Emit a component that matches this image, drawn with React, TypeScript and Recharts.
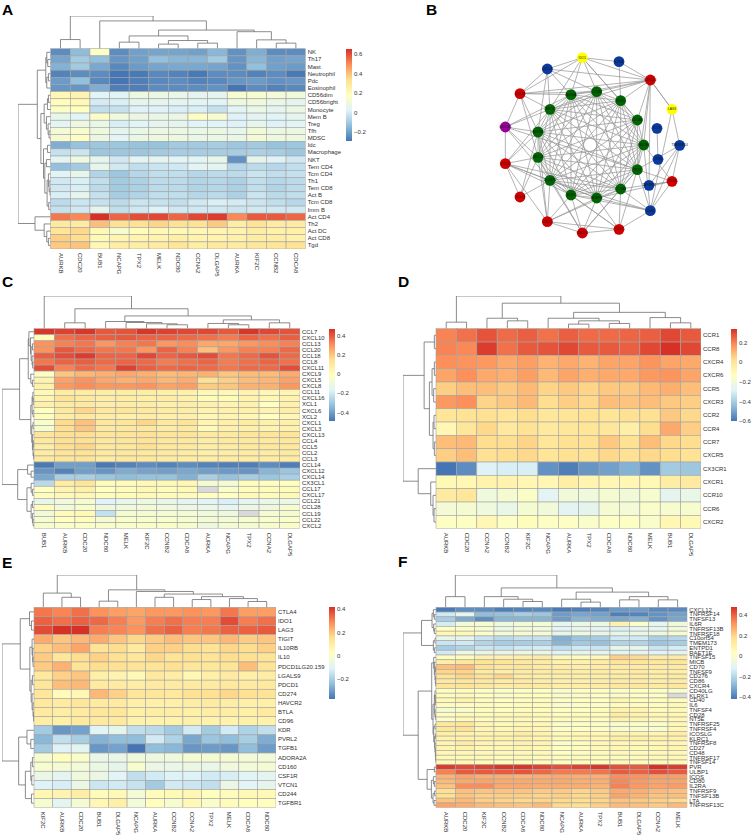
import React from "react";
import { ScatterChart, Scatter, XAxis, YAxis, BarChart, Bar } from "recharts";

type Tree = 0 | [number, Tree, Tree];
const FONT = "'Liberation Sans', Arial, sans-serif";
const palette = ["#4575B4", "#91BFDB", "#E0F3F8", "#FFFFBF", "#FEE090", "#FC8D59", "#D73027"];
const NA = null;

// ---------- Panel A ----------
const aCols = ["AURKB","CDC20","BUB1","NCAPG","TPX2","MELK","NDC80","CCNA2","DLGAP5","AURKA","KIF2C","CCNB2","CDCA8"];
const aRows = ["NK","Th17","Mast","Neutrophil","Pdc","Eosinophil","CD56dim","CD56bright","Monocyte","Mem B","Treg","Tfh","MDSC","Idc","Macrophage","NKT","Tem CD4","Tcm CD4","Th1","Tem CD8","Act B","Tcm CD8","Imm B","Act CD4","Th2","Act DC","Act CD8","Tgd"];
const aValues = [
[-24,-14,17,-24,-20,-19,-19,-20,-15,-23,-17,-24,-24],
[-19,-10,-13,-22,-20,-13,-15,-15,-10,-22,-15,-20,-19],
[-16,-10,-18,-25,-21,-19,-18,-18,-19,-23,-13,-20,-21],
[-26,-24,-24,-29,-28,-25,-26,-28,-24,-24,-26,-24,-28],
[-21,-13,-25,-29,-27,-25,-24,-26,-25,-22,-21,-23,-22],
[-22,-22,-17,-27,-27,-24,-24,-24,-23,-29,-24,-26,-25],
[22,24,3,3,9,8,7,5,5,14,14,12,11],
[19,21,0,1,5,5,4,3,3,9,10,7,5],
[16,18,-4,-3,2,2,1,1,-3,4,7,5,8],
[6,3,16,10,8,7,8,17,14,2,4,3,5],
[4,9,7,1,3,5,5,3,3,2,6,2,3],
[12,14,9,5,7,8,8,7,8,6,11,8,8],
[13,17,8,3,7,9,9,7,7,7,12,9,9],
[-17,-12,-11,-11,-12,-12,-10,-10,-9,-11,-10,-12,-11],
[-3,-2,-11,-11,-11,-10,-9,-9,-9,-9,-8,-9,-11],
[4,9,5,-1,3,4,3,3,6,-23,5,2,-1],
[-13,-10,6,-1,-4,-2,-1,4,4,-6,-5,-6,-4],
[3,6,-7,-11,-6,-4,-4,-6,-5,-5,-2,-4,-3],
[-1,1,-4,-10,-8,-5,-5,-7,-6,-8,-4,-6,-5],
[-1,1,-5,-10,-8,-5,-5,-7,-6,-8,-4,-7,-5],
[1,5,-3,-9,-7,-4,-4,-6,-5,-8,-2,-5,-4],
[-5,-2,-3,-5,-2,-3,-4,-1,1,0,-2,-4,-6],
[-3,-1,5,-4,-1,2,-1,-1,-1,-2,-1,-1,-1],
[53,50,65,56,60,61,56,61,63,50,58,58,56],
[29,28,40,33,33,36,33,32,38,27,32,28,28],
[31,35,21,14,19,21,21,22,23,24,27,25,25],
[37,34,21,23,24,24,26,24,24,25,27,27,25],
[38,39,22,27,27,28,31,27,29,28,30,31,32],
];
const aColTree: Tree = [1,[.28,0,0],[.85,0,[.57,[.39,[.2,0,0],[.25,[.14,0,0],[.17,0,0]]],[.52,0,[.27,0,[.17,0,0]]]]]];
const aRowTree: Tree = [1,[.41,[.15,[.12,0,[.09,0,0]],[.12,[.07,0,0],0]],[.3,[.2,[.1,[.07,0,0],0],[.13,0,[.08,0,[.05,0,0]]]],[.22,[.1,0,0],[.18,[.13,0,0],[.11,[.07,0,[.05,0,[.02,0,0]]],[.06,0,0]]]]]],[.48,0,[.2,0,[.12,0,[.07,0,0]]]]];

// ---------- Panel C ----------
const cCols = ["BUB1","AURKB","CDC20","NDC80","MELK","KIF2C","CCNB2","CDCA8","AURKA","NCAPG","TPX2","CCNA2","DLGAP5"];
const cRows = ["CCL7","CXCL10","CCL13","CCL20","CCL18","CCL8","CXCL11","CXCL9","CXCL5","CXCL8","CCL11","CXCL16","XCL1","CXCL6","XCL2","CXCL1","CXCL3","CXCL13","CCL4","CCL5","CCL2","CCL3","CCL14","CXCL12","CXCL14","CX3CL1","CCL17","CXCL17","CCL21","CCL28","CCL19","CCL22","CXCL2"];
const cValues = [
[46,44,46,40,41,46,44,43,43,40,46,43,41],
[0,36,38,39,40,38,38,37,36,34,38,36,39],
[30,33,35,29,33,35,29,31,26,26,29,31,33],
[30,40,37,35,35,29,38,33,21,29,33,33,37],
[39,42,45,38,38,43,38,40,42,35,37,41,37],
[35,38,39,37,38,37,34,36,38,34,36,38,36],
[42,33,37,35,44,39,37,38,37,35,37,37,42],
[-2,20,23,24,26,24,22,23,24,20,22,22,25],
[5,27,30,26,24,26,23,25,14,18,22,23,27],
[6,29,31,29,29,30,27,28,19,20,24,24,29],
[2,9,9,8,8,8,7,6,3,3,5,3,4],
[4,13,10,8,8,7,8,6,1,1,5,3,5],
[7,10,10,8,9,9,7,8,6,5,6,-1,6],
[-1,11,17,11,12,10,9,8,5,6,7,5,8],
[0,8,10,8,7,8,7,6,3,4,3,-1,3],
[-4,16,21,11,12,17,10,13,4,7,9,6,7],
[-5,15,20,10,11,11,9,10,2,6,7,5,6],
[12,15,15,12,13,14,12,13,10,10,12,12,12],
[10,14,14,11,12,13,11,11,8,10,10,10,11],
[8,15,17,11,11,14,11,10,8,9,10,11,11],
[9,13,13,10,11,10,10,9,7,8,9,9,10],
[10,12,13,9,11,11,9,9,8,9,9,9,9],
[-48,-40,-40,-48,-46,-44,-46,-44,-46,-47,-47,-44,-47],
[-42,-46,-40,-42,-37,-39,-40,-38,-40,-41,-42,-35,-31],
[-38,-28,-28,-31,-33,-32,-32,-36,-28,-32,-29,-31,-28],
[-25,9,12,1,1,2,2,3,-6,-7,0,-2,-1],
[-1,5,7,-1,1,3,1,2,NA,-4,0,1,1],
[0,2,3,1,1,2,1,1,-1,-1,2,1,2],
[-13,-9,-6,-17,-13,-10,-13,-15,-16,-18,-15,-12,-12],
[1,-8,-5,-10,-9,-8,-9,-11,-12,-14,-11,-10,-5],
[-8,1,2,-23,-6,-6,-7,-7,-9,-10,NA,-6,-6],
[-5,-1,0,-6,-4,-4,-4,-5,-7,-7,-5,-4,-3],
[-5,-4,-3,-4,-4,-4,-4,-5,-10,-7,-6,-5,-4],
];
const cColTree: Tree = [1,0,[.61,[.18,0,0],[.39,[.22,0,[.19,0,[.15,0,[.12,0,0]]]],[.27,[.16,0,[.12,0,0]],[.18,0,0]]]]];
const cRowTree: Tree = [1,[.45,[.18,[.16,0,[.11,0,[.09,[.05,0,0],[.06,0,[.04,0,0]]]]],[.1,0,[.05,0,0]]],[.1,[.06,[.035,0,[.025,0,0]],[.03,0,0]],[.07,[.03,0,0],[.05,0,[.03,[.02,0,0],[.015,0,0]]]]]],[.51,[.2,0,[.09,0,0]],[.22,[.09,0,[.05,0,0]],[.09,[.05,0,0],[.05,0,[.03,0,0]]]]]];

// ---------- Panel D ----------
const dCols = ["AURKB","CDC20","CCNA2","CCNB2","KIF2C","NCAPG","AURKA","TPX2","CDCA8","NDC80","MELK","BUB1","DLGAP5"];
const dRows = ["CCR1","CCR8","CXCR4","CXCR6","CCR5","CXCR3","CCR2","CCR4","CCR7","CXCR5","CX3CR1","CXCR1","CCR10","CCR6","CXCR2"];
const dValues = [
[20,23,28,24,26,23,26,24,24,25,26,30,27],
[20,19,32,23,27,28,30,27,27,26,30,34,30],
[18,17,16,13,15,11,13,11,14,14,17,14,13],
[14,18,13,12,15,10,14,12,13,13,16,17,14],
[6,9,9,7,10,5,7,5,7,7,10,12,9],
[16,18,5,7,10,3,6,4,9,8,9,7,6],
[0,1,2,0,3,-1,0,1,0,2,2,7,4],
[-9,-1,4,-2,1,-2,-1,0,-1,-5,3,13,6],
[9,10,3,3,5,-1,2,2,7,2,9,4,3],
[6,9,2,3,4,0,2,1,4,2,4,3,1],
[-60,-55,-29,-30,-30,-54,-58,-53,-51,-47,-54,-41,-42],
[-10,-9,-7,-7,-9,-9,-5,-8,-9,-9,-10,-4,-3],
[-3,-1,-21,-18,-15,-27,-20,-21,-18,-20,-17,-26,-24],
[-19,-18,-21,-24,-18,-20,-27,-26,-18,-19,-16,-17,-17],
[-14,-14,-9,-14,-12,-14,-14,-16,-14,-14,-16,-9,-10],
];
const dColTree: Tree = [1,[.2,0,0],[.78,[.32,0,[.24,0,0]],[.5,[.32,0,[.24,[.14,0,0],[.16,0,0]]],[.34,0,[.18,0,0]]]]];
const dRowTree: Tree = [1,[.36,[.05,0,0],[.2,[.12,[.05,0,0],[.07,0,0]],[.09,[.06,0,0],[.05,0,0]]]],[.54,0,[.16,0,[.09,0,[.06,0,0]]]]];

// ---------- Panel E ----------
const eCols = ["KIF2C","AURKB","CDC20","BUB1","DLGAP5","NCAPG","AURKA","CCNB2","CCNA2","TPX2","MELK","CDCA8","NDC80"];
const eRows = ["CTLA4","IDO1","LAG3","TIGIT","IL10RB","IL10","PDCD1LG20.159","LGALS9","PDCD1","CD274","HAVCR2","BTLA","CD96","KDR","PVRL2","TGFB1","ADORA2A","CD160","CSF1R","VTCN1","CD244","TGFBR1"];
const eValues = [
[32,30,33,28,26,25,27,27,28,27,32,26,26],
[35,33,35,34,31,27,31,33,31,31,38,31,33],
[38,42,42,31,30,28,33,35,31,32,35,35,36],
[24,20,22,24,20,17,19,21,20,20,22,19,20],
[18,21,25,14,16,11,18,18,16,14,17,16,18],
[19,13,16,18,15,13,17,14,15,14,16,15,14],
[19,23,14,16,15,14,14,15,13,13,14,21,14],
[12,18,20,9,7,5,12,10,6,9,11,9,10],
[13,21,22,11,11,10,11,11,11,11,12,11,12],
[13,4,6,22,18,13,13,12,15,15,17,15,14],
[12,11,13,11,11,9,9,9,10,11,10,9,9],
[11,10,11,13,13,9,10,10,9,10,10,9,11],
[10,9,12,12,12,8,8,8,9,8,8,9,8],
[-21,-31,-29,-10,-8,-16,-17,-21,-13,-21,-13,-19,-16],
[-25,-16,-20,-26,-24,-24,-13,-19,-28,-22,-24,-20,-27],
[-21,-11,-9,-31,-29,-37,-24,-25,-31,-30,-31,-24,-30],
[-1,3,0,-7,-7,-4,-5,-4,-2,-2,-2,-3,-3],
[-1,-2,-3,-6,-8,-1,-6,-7,-6,-7,-4,-3,-2],
[-6,-9,-4,-6,-10,-16,-13,-11,-11,-13,-12,-10,-9],
[-11,-12,-6,-14,-13,-15,-21,-13,-14,-16,-6,-10,-8],
[6,7,10,4,5,-3,4,5,6,3,4,5,5],
[-1,-9,-2,6,9,-3,3,-1,5,0,4,3,3],
];
const eColTree: Tree = [1,[.44,0,[.31,0,0]],[.54,[.19,0,0],[.49,0,[.41,[.31,0,0],[.33,[.24,0,0],[.27,0,[.18,0,0]]]]]]];
const eRowTree: Tree = [1,[.43,[.14,0,[.08,0,0]],[.13,[.06,0,[.04,0,[.03,0,0]]],[.09,[.05,0,0],[.06,0,[.03,0,[.015,0,0]]]]]],[.48,[.22,0,[.1,0,0]],[.27,[.1,[.05,0,0],[.07,0,0]],[.08,0,0]]]];

// ---------- Panel F ----------
const fCols = ["AURKB","CDC20","KIF2C","CCNB2","CDCA8","NDC80","NCAPG","AURKA","TPX2","BUB1","DLGAP5","CCNA2","MELK"];
const fRows = ["CXCL12","TNFRSF14","TNFSF13","IL6R","TNFRSF13B","TNFRSF18","C10orf54","TMEM173","ENTPD1","RAET1E","TNFSF15","MICB","CD70","TNFSF9","CD276","CD86","CXCR4","CD40LG","KLRK1","CD40","IL6","TNFSF4","CD28","NT5E","TNFRSF25","TNFRSF4","ICOSLG","KLRC1","TNFRSF8","CD27","CD48","TNFRSF17","TNFSF14","PVR","ULBP1","ICOS","CD80","IL2RA","TNFRSF9","TNFSF13B","LTA","TNFRSF13C"];
const fValues = [
[-41,-37,-37,-40,-39,-38,-41,-40,-39,-35,-34,-38,-38],
[-15,-9,-27,-26,-23,-25,-34,-32,-33,-40,-39,-36,-33],
[-23,-31,-37,-29,-29,-29,-34,-29,-31,-32,-30,-36,-32],
[-14,-3,-1,-5,-3,-2,-9,-6,-6,10,1,-9,-4],
[3,2,-2,-7,-4,-5,-11,-9,-11,-13,-11,-9,-5],
[7,6,2,-3,-1,-2,-8,-5,-7,-8,-7,-6,-1],
[-8,-9,-16,-19,-17,-17,-30,-25,-23,-15,-15,-22,-20],
[-16,-15,-21,-23,-23,-22,-29,-24,-26,-21,-21,-25,-23],
[-23,-21,-16,-17,-15,-14,-18,-15,-16,-9,-9,-16,-14],
[-15,-6,-8,-8,-7,-7,-12,-10,-11,-10,-10,-12,-11],
[4,5,10,10,11,12,6,5,7,21,19,13,13],
[11,14,16,15,14,13,10,10,12,15,15,14,15],
[24,25,17,14,15,13,12,11,12,13,13,13,13],
[20,20,13,11,12,12,12,11,12,11,13,11,11],
[16,20,16,20,12,11,11,11,11,12,12,11,12],
[14,15,14,12,13,12,11,11,12,13,13,12,13],
[15,16,14,12,13,13,11,11,12,14,14,13,14],
[4,5,3,2,3,3,0,2,2,2,3,2,1],
[5,6,3,1,3,3,0,1,2,1,2,2,NA],
[6,9,5,3,4,5,2,3,3,8,5,4,5],
[5,5,5,4,5,5,0,2,2,5,5,4,6],
[-3,0,4,3,4,4,3,3,4,9,8,5,6],
[5,6,5,6,7,6,4,5,5,12,9,7,7],
[0,6,5,6,6,5,5,5,4,9,8,6,7],
[14,15,8,6,7,7,1,2,2,0,1,1,7],
[15,17,8,7,8,7,2,3,2,0,0,0,7],
[11,10,9,9,12,9,6,7,7,9,9,8,11],
[9,10,9,10,10,8,6,7,7,11,11,10,10],
[8,12,8,7,9,8,2,4,7,7,7,7,7],
[8,9,7,7,8,7,3,4,6,7,6,7,8],
[7,7,6,6,6,6,3,4,5,6,5,6,7],
[6,6,6,5,6,5,4,5,5,5,5,6,6],
[6,7,5,5,5,5,4,5,5,6,5,6,6],
[46,44,45,47,47,45,43,45,47,43,41,48,46],
[35,41,41,41,42,39,36,36,37,41,40,43,41],
[26,29,27,27,26,27,28,27,27,33,32,30,30],
[25,28,29,28,28,28,28,27,27,34,31,29,29],
[23,33,33,28,28,27,27,27,26,35,31,29,30],
[18,24,23,23,23,22,22,20,22,28,27,25,24],
[17,23,21,21,21,20,21,19,21,29,26,23,24],
[23,25,21,20,19,20,19,18,20,23,22,21,19],
[29,27,25,24,23,25,19,18,21,25,24,22,25],
];
const fColTree: Tree = [1,[.33,0,0],[.6,[.33,0,[.25,0,[.18,0,0]]],[.47,[.25,0,[.16,0,0]],[.33,[.23,0,0],[.23,0,0]]]]];
const fRowTree: Tree = [1,[.44,[.12,[.08,0,[.05,0,0]],[.07,0,[.05,0,0]]],[.08,[.03,0,0],[.05,0,0]]],[.54,[.13,[.07,0,[.05,0,[.03,[.02,0,0],[.02,0,[.01,0,0]]]]],[.09,[.05,[.03,0,[.02,0,[.01,0,0]]],[.03,0,[.02,0,0]]],[.07,[.03,0,0],[.04,[.02,0,0],[.03,0,[.02,0,[.01,0,[.005,0,0]]]]]]]],[.27,[.05,0,0],[.14,[.08,0,[.05,0,0]],[.09,[.04,0,0],[.06,0,0]]]]]];

// ---------- Panel B (network) ----------
const netNames = ["CCNB2","KIF2C","CDCA8","NDC80","TPX2","CCNA2","NCAPG","BUB1","DLGAP5","CDC20","AURKB","MELK","AURKA","IDO1","IL2RA","CXCL10","LAG3","TNFRSF14","CCL5","CD80","CCL7","CXCL11","CXCL1","CCL19","CCL20","CX3CR1","CCL18","CXCL9","ICOS","CD86","TNFSF13"];
const netX = [380,452,502,521,502,452,380,303,240,204,204,240,303,337,447,541,606,629,606,541,447,337,232,150,106,106,150,232,561,564,537];
const netY = [275,302,360,435,509,567,594,585,541,472,396,328,284,173,185,240,328,436,544,632,688,699,665,591,491,381,281,207,385,478,556];
const netGroupA = [0,1,2,3,4,5,6,7,8,9,10,11,12]; // green
const netGroupB = [14,17,19,27,28,29,30];          // blue
const netGroupC = [15,18,20,21,22,23,24,26];       // red
const netGroupD = [13,16];                         // yellow
const netGroupE = [25];                            // purple
const netOuterEdges: [number, number[]][] = [
  [13,[12,0,1,11,2,27,26,15]],
  [14,[15,1,13]],
  [15,[0,1,2,3,4,12,11,16,27,26,30]],
  [16,[17,19,15]],
  [17,[18,19,30,4]],
  [18,[3,4,5,6,19,30]],
  [19,[3,4,5,6,7,8,20]],
  [20,[5,6,7,8,4,21,22]],
  [21,[6,7,8,9,5,4,22]],
  [22,[8,9,7,6,5,10,24]],
  [23,[8,9,10,24]],
  [24,[9,10,11,8,7,6,5,25]],
  [25,[10,11,9,8,12,4,26]],
  [26,[11,12,10,0,9,27]],
  [27,[12,11,0,10]],
  [28,[29]],
];

// ---------- helpers ----------
function ramp(v: number, min: number, max: number) {
  const t = Math.min(1, Math.max(0, (v - min) / (max - min))) * (palette.length - 1);
  const i = Math.min(palette.length - 2, Math.floor(t));
  const f = t - i;
  const h = (s: string, k: number) => parseInt(s.slice(1 + k * 2, 3 + k * 2), 16);
  const c = [0, 1, 2].map((k) => Math.round(h(palette[i], k) * (1 - f) + h(palette[i + 1], k) * f));
  return `rgb(${c[0]},${c[1]},${c[2]})`;
}

type Ref = { pos: number; h: number };
function walk(node: Tree, cnt: { i: number }, links: [Ref, Ref, number][]): Ref {
  if (node === 0) return { pos: cnt.i++ + 0.5, h: 0 };
  const a = walk(node[1], cnt, links);
  const b = walk(node[2], cnt, links);
  links.push([a, b, node[0]]);
  return { pos: (a.pos + b.pos) / 2, h: node[0] };
}
const NoDot = () => <g />;
const DEND = { stroke: "#6f6f6f", strokeWidth: 0.8, fill: "none" };
const TEXT = "#303030";

type Box = { x0: number; hx0: number; hx1: number; y0: number; hy0: number; hy1: number; cbx: number; min: number; max: number; ticks: number[] };

function Heat({ id, cols, rows, values, colTree, rowTree, box }: { id: string; cols: string[]; rows: string[]; values: (number | null)[][]; colTree: Tree; rowTree: Tree; box: Box }) {
  const R = 60, B = 34, pad = 1;
  const cw = (box.hx1 - box.hx0) / cols.length;
  const rh = (box.hy1 - box.hy0) / rows.length;
  const dw = (box.hx0 - box.x0) / cw;
  const dh = (box.hy0 - box.y0) / rh;
  const cells: { x: number; y: number; v: number | null }[] = [];
  rows.forEach((_, r) => cols.forEach((__, c) => cells.push({ x: c + 0.5, y: r + 0.5, v: values[r][c] })));
  const colLinks: [Ref, Ref, number][] = [];
  walk(colTree, { i: 0 }, colLinks);
  const rowLinks: [Ref, Ref, number][] = [];
  walk(rowTree, { i: 0 }, rowLinks);
  const polylines = [
    ...colLinks.map(([a, b, h]) => [
      { x: a.pos, y: -a.h * dh }, { x: a.pos, y: -h * dh }, { x: b.pos, y: -h * dh }, { x: b.pos, y: -b.h * dh },
    ]),
    ...rowLinks.map(([a, b, h]) => [
      { x: -a.h * dw, y: a.pos }, { x: -h * dw, y: a.pos }, { x: -h * dw, y: b.pos }, { x: -b.h * dw, y: b.pos },
    ]),
  ];
  const CellShape = (p: any) => {
    const v = p.payload.v;
    const vv = v === null ? "#d9d9d9" : ramp(v / 100, box.min, box.max);
    return <rect x={p.cx - cw / 2} y={p.cy - rh / 2} width={cw} height={rh} fill={vv} stroke="#a3a3a3" strokeWidth={0.6} />;
  };
  const ColTick = (p: any) => (
    <text transform={`translate(${p.x},${p.y + 2}) rotate(90)`} fontSize={6} fontFamily={FONT} fill={TEXT} dominantBaseline="central" textAnchor="start">
      {cols[Math.floor(p.payload.value)]}
    </text>
  );
  const RowTick = (p: any) => (
    <text x={p.x + 2} y={p.y} fontSize={6} fontFamily={FONT} fill={TEXT} dominantBaseline="central" textAnchor="start">
      {rows[Math.floor(p.payload.value)]}
    </text>
  );
  const W = box.hx1 - box.x0 + R + pad;
  const H = box.hy1 - box.y0 + B + pad;
  const cbTop = box.hy0;
  const cbH = 92;
  const fmt = (v: number) => (v < 0 ? "\u2212" + Math.abs(v) : String(v));
  return (
    <>
      <div style={{ position: "absolute", left: box.x0 - pad, top: box.y0 - pad }}>
        <ScatterChart width={W} height={H} margin={{ top: pad, left: pad, right: 0, bottom: 0 }}>
          <XAxis type="number" dataKey="x" domain={[-dw, cols.length]} ticks={cols.map((_, i) => i + 0.5)} interval={0} height={B} tick={ColTick} tickLine={false} axisLine={false} tickSize={0} allowDataOverflow />
          <YAxis type="number" dataKey="y" orientation="right" reversed domain={[-dh, rows.length]} ticks={rows.map((_, i) => i + 0.5)} interval={0} width={R} tick={RowTick} tickLine={false} axisLine={false} tickSize={0} tickMargin={0} allowDataOverflow />
          {polylines.map((pts, i) => (
            <Scatter key={i} data={pts} line={DEND} shape={NoDot} isAnimationActive={false} />
          ))}
          <Scatter data={cells} shape={CellShape} isAnimationActive={false} />
        </ScatterChart>
      </div>
      <div style={{ position: "absolute", left: box.cbx, top: cbTop - 4 }}>
        <BarChart width={36} height={cbH + 8} data={[{ name: "scale", range: [box.min, box.max] }]} margin={{ top: 4, left: 0, right: 0, bottom: 4 }} barCategoryGap={0}>
          <defs>
            <linearGradient id={id} x1="0" y1="0" x2="0" y2="1">
              {[...palette].reverse().map((c, i) => (
                <stop key={c} offset={`${(i * 100) / 6}%`} stopColor={c} />
              ))}
            </linearGradient>
          </defs>
          <XAxis dataKey="name" hide />
          <YAxis type="number" orientation="right" domain={[box.min, box.max]} ticks={box.ticks} interval={0} width={30} tickFormatter={fmt} tick={{ fontSize: 6, fontFamily: FONT, fill: TEXT }} tickLine={false} axisLine={false} tickSize={0} tickMargin={2} allowDataOverflow />
          <Bar dataKey="range" fill={`url(#${id})`} isAnimationActive={false} />
        </BarChart>
      </div>
    </>
  );
}

function Network() {
  const edges: [number, number][] = [];
  netGroupA.forEach((a, i) => netGroupA.forEach((b, j) => { if (j > i) edges.push([a, b]); }));
  netOuterEdges.forEach(([a, list]) => list.forEach((b) => edges.push([a, b])));
  const pt = (i: number) => ({ x: netX[i], y: netY[i], name: netNames[i] });
  const Node = (p: any) => (
    <g>
      <circle cx={p.cx} cy={p.cy} r={5.4} fill={p.fill} />
      <text x={p.cx} y={p.cy} fontSize={3.2} fontFamily={FONT} fill="#111" textAnchor="middle" dominantBaseline="central">{p.payload.name}</text>
    </g>
  );
  const groups: [number[], string][] = [
    [netGroupA, "#006400"], [netGroupB, "#0a3a9e"], [netGroupC, "#d00000"], [netGroupD, "#ffff00"], [netGroupE, "#990099"],
  ];
  return (
    <div style={{ position: "absolute", left: 470, top: 0 }}>
      <ScatterChart width={283} height={280} margin={{ top: 0, left: 0, right: 0, bottom: 0 }}>
        <XAxis type="number" dataKey="x" domain={[0, 849]} hide allowDataOverflow />
        <YAxis type="number" dataKey="y" domain={[0, 840]} reversed hide allowDataOverflow />
        {edges.map(([a, b], i) => (
          <Scatter key={i} data={[pt(a), pt(b)]} line={{ stroke: "#939393", strokeWidth: 0.7 }} shape={NoDot} isAnimationActive={false} />
        ))}
        {groups.map(([g, c]) => (
          <Scatter key={c} data={g.map(pt)} fill={c} shape={Node} isAnimationActive={false} />
        ))}
      </ScatterChart>
    </div>
  );
}

const letters: [string, number, number][] = [["A", 2, 15], ["B", 426, 15], ["C", 2, 287], ["D", 398, 287], ["E", 2, 568], ["F", 398, 567]];

export default function App() {
  return (
    <div style={{ position: "absolute", left: 0, top: 0, width: 753, height: 835, background: "#fff", overflow: "hidden" }}>
      <Heat id="gA" cols={aCols} rows={aRows} values={aValues} colTree={aColTree} rowTree={aRowTree}
        box={{ x0: 18, hx0: 50.7, hx1: 305.7, y0: 16, hy0: 48.7, hy1: 249, cbx: 346, min: -0.29, max: 0.65, ticks: [-0.2, 0, 0.2, 0.4, 0.6] }} />
      <Network />
      <Heat id="gC" cols={cCols} rows={cRows} values={cValues} colTree={cColTree} rowTree={cRowTree}
        box={{ x0: 1.7, hx0: 33.7, hx1: 299.7, y0: 296, hy0: 328.7, hy1: 528.7, cbx: 329, min: -0.49, max: 0.47, ticks: [-0.4, -0.2, 0, 0.2, 0.4] }} />
      <Heat id="gD" cols={dCols} rows={dRows} values={dValues} colTree={dColTree} rowTree={dRowTree}
        box={{ x0: 403, hx0: 436, hx1: 701, y0: 296, hy0: 328.7, hy1: 528.7, cbx: 731.3, min: -0.6, max: 0.34, ticks: [-0.6, -0.4, -0.2, 0, 0.2] }} />
      <Heat id="gE" cols={eCols} rows={eRows} values={eValues} colTree={eColTree} rowTree={eRowTree}
        box={{ x0: 1.7, hx0: 33.7, hx1: 275.7, y0: 575, hy0: 607.3, hy1: 807.7, cbx: 329, min: -0.37, max: 0.42, ticks: [-0.2, 0, 0.2, 0.4] }} />
      <Heat id="gF" cols={fCols} rows={fRows} values={fValues} colTree={fColTree} rowTree={fRowTree}
        box={{ x0: 403, hx0: 436, hx1: 687.3, y0: 575, hy0: 607.3, hy1: 807.7, cbx: 731.3, min: -0.42, max: 0.48, ticks: [-0.4, -0.2, 0, 0.2, 0.4] }} />
      <svg width={753} height={835} style={{ position: "absolute", left: 0, top: 0, pointerEvents: "none" }}>
        {letters.map(([t, x, y]) => (
          <text key={t} x={x} y={y} fontFamily={FONT} fontWeight="bold" fontSize={15.5} fill="#000">{t}</text>
        ))}
      </svg>
    </div>
  );
}
